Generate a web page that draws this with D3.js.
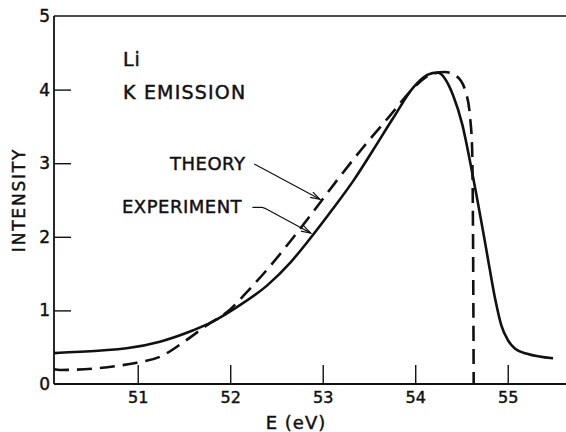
<!DOCTYPE html>
<html>
<head>
<meta charset="utf-8">
<script src="https://cdn.jsdelivr.net/npm/d3@7"></script>
<style>
  html, body { margin: 0; padding: 0; background: #fff; }
  svg { display: block; }
  text { font-family: "DejaVu Sans", "Liberation Sans", sans-serif; fill: #111; stroke: #111; stroke-width: 0.45px; }
</style>
</head>
<body>
<svg id="chart" width="566" height="432"></svg>
<script>
// Li K emission band: measured spectrum vs. theoretical curve
const xTicks = [51, 52, 53, 54, 55];
const yTicks = [0, 1, 2, 3, 4, 5];

const experimentE = [50.095, 50.16, 50.88, 51.24, 51.60, 51.80, 52.03, 52.40, 52.65, 52.86, 53.11, 53.33, 53.54, 53.76, 53.98, 54.13, 54.24, 54.41, 54.51, 54.59, 54.66, 54.73, 54.80, 54.87, 54.93, 55.00, 55.08, 55.21, 55.49];
const experimentI = [0.42, 0.425, 0.485, 0.575, 0.73, 0.84, 1.01, 1.34, 1.65, 1.97, 2.38, 2.76, 3.17, 3.61, 4.03, 4.20, 4.23, 3.92, 3.52, 3.04, 2.58, 2.10, 1.60, 1.12, 0.80, 0.60, 0.48, 0.41, 0.35];

const theoryE = [50.095, 50.16, 50.99, 51.24, 51.53, 51.75, 51.97, 52.21, 52.43, 52.65, 52.86, 53.15, 53.44, 53.73, 53.98, 54.16, 54.32, 54.45, 54.55, 54.595, 54.615, 54.625, 54.632];
const theoryI = [0.20, 0.19, 0.29, 0.37, 0.60, 0.80, 0.98, 1.29, 1.60, 1.94, 2.28, 2.76, 3.22, 3.65, 4.02, 4.20, 4.24, 4.18, 3.95, 3.60, 3.20, 2.0, 0.0];

// label arrows: tail, bend and tip in data units
const theoryArrow = [[52.26, 2.99], [52.97, 2.51]];
const experimentArrow = [[52.24, 2.40], [52.36, 2.40], [52.87, 2.05]];

const svg = d3.select("#chart");
const x = d3.scaleLinear().domain([50.095, 55.63]).range([54, 566]);
const y = d3.scaleLinear().domain([0, 5]).range([384, 16]);

const ink = "#111";

// frame: left, bottom and top rules
svg.append("line").attr("x1", x.range()[0]).attr("x2", x.range()[0])
  .attr("y1", y(5)).attr("y2", y(0)).attr("stroke", ink).attr("stroke-width", 1.8);
svg.append("line").attr("x1", x.range()[0]).attr("x2", x.range()[1])
  .attr("y1", y(0)).attr("y2", y(0)).attr("stroke", ink).attr("stroke-width", 1.8);
svg.append("line").attr("x1", x.range()[0]).attr("x2", x.range()[1])
  .attr("y1", y(5)).attr("y2", y(5)).attr("stroke", ink).attr("stroke-width", 1.6);

// x axis: inward ticks with labels below
const xAxis = d3.axisBottom(x).tickValues(xTicks).tickSizeInner(-19).tickSizeOuter(0).tickPadding(8).tickFormat(d3.format("d"));
const gx = svg.append("g").attr("transform", `translate(0,${y(0)})`).call(xAxis);
gx.select(".domain").remove();
gx.selectAll(".tick line").attr("stroke", ink).attr("stroke-width", 1.4);
gx.selectAll(".tick text").attr("font-size", 16).attr("fill", ink)
  .style("font-family", "DejaVu Sans, sans-serif");

// y axis: inward ticks, no marks at the frame lines
const yAxis = d3.axisLeft(y).tickValues(yTicks).tickSizeInner(-17).tickSizeOuter(0).tickPadding(4).tickFormat(d3.format("d"));
const gy = svg.append("g").attr("transform", `translate(${x.range()[0]},0)`).call(yAxis);
gy.select(".domain").remove();
gy.selectAll(".tick line").attr("stroke", ink).attr("stroke-width", 1.4)
  .attr("display", d => (d === 0 || d === 5) ? "none" : null);
gy.selectAll(".tick text").attr("font-size", 17).attr("fill", ink)
  .style("font-family", "DejaVu Sans, sans-serif");

// axis titles
svg.append("text").attr("x", 296).attr("y", 429).attr("text-anchor", "middle")
  .attr("font-size", 18).attr("letter-spacing", 1).text("E (eV)");
svg.append("text").attr("transform", "translate(25,200) rotate(-90)").attr("text-anchor", "middle")
  .attr("font-size", 17).attr("letter-spacing", 1.8).text("INTENSITY");

// curves
const line = d3.line().x(d => x(d[0])).y(d => y(d[1])).curve(d3.curveMonotoneX);
const experiment = experimentE.map((e, i) => [e, experimentI[i]]);
const theory = theoryE.map((e, i) => [e, theoryI[i]]);

svg.append("path").datum(experiment).attr("d", line)
  .attr("fill", "none").attr("stroke", ink).attr("stroke-width", 2.6).attr("stroke-linejoin", "round");
svg.append("path").datum(theory).attr("d", line)
  .attr("fill", "none").attr("stroke", ink).attr("stroke-width", 2.6)
  .attr("stroke-dasharray", "15,8");

// labels
svg.append("text").attr("x", 123).attr("y", 66).attr("font-size", 19).attr("letter-spacing", 1).text("Li");
svg.append("text").attr("x", 123).attr("y", 99).attr("font-size", 19).attr("letter-spacing", 1.2).text("K EMISSION");
svg.append("text").attr("x", 170).attr("y", 170).attr("font-size", 18).attr("letter-spacing", 0.5).text("THEORY");
svg.append("text").attr("x", 122).attr("y", 213).attr("font-size", 18).attr("letter-spacing", 0.5).text("EXPERIMENT");

// arrows with open heads
function arrow(pts) {
  const p = pts.map(d => [x(d[0]), y(d[1])]);
  svg.append("path").attr("d", d3.line().curve(d3.curveBasis)(p.length > 2 ? [p[0], p[1], p[1], p[2]] : p))
    .attr("fill", "none").attr("stroke", ink).attr("stroke-width", 1.2);
  const tip = p[p.length - 1], prev = p[p.length - 2];
  const ang = Math.atan2(tip[1] - prev[1], tip[0] - prev[0]);
  const len = 10, spread = 0.3;
  const head = [
    [tip[0] - len * Math.cos(ang - spread), tip[1] - len * Math.sin(ang - spread)],
    tip,
    [tip[0] - len * Math.cos(ang + spread), tip[1] - len * Math.sin(ang + spread)]
  ];
  svg.append("path").attr("d", d3.line()(head))
    .attr("fill", "none").attr("stroke", ink).attr("stroke-width", 1.2);
}
arrow(theoryArrow);
arrow(experimentArrow);
</script>
</body>
</html>
